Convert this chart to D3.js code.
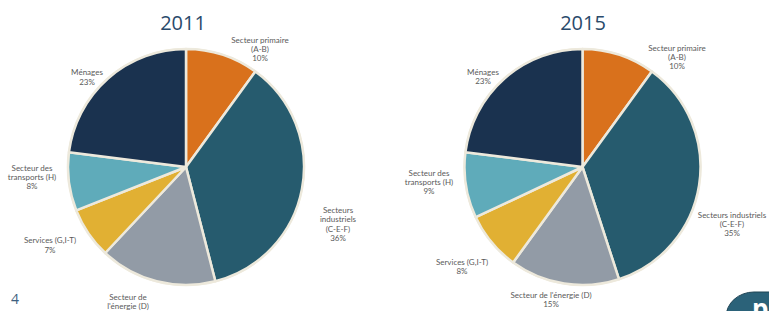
<!DOCTYPE html>
<html><head><meta charset="utf-8">
<script src="https://cdn.jsdelivr.net/npm/d3@7"></script>
<style>html,body{margin:0;padding:0;background:#fff;overflow:hidden}</style>
</head><body>
<svg id="c" width="769" height="311"></svg>
<script>
const categories = ["Secteur primaire (A-B)", "Secteurs industriels (C-E-F)", "Secteur de l'énergie (D)", "Services (G,I-T)", "Secteur des transports (H)", "Ménages"];
const years = ["2011", "2015"];
const values2011 = [10, 36, 16, 7, 8, 23];
const values2015 = [10, 35, 15, 8, 9, 23];
const labels2011 = [["Secteur primaire","(A-B)"],["Secteurs","industriels","(C-E-F)"],["Secteur de","l'énergie (D)"],["Services (G,I-T)"],["Secteur des","transports (H)"],["Ménages"]];
const labels2015 = [["Secteur primaire","(A-B)"],["Secteurs industriels","(C-E-F)"],["Secteur de l'énergie (D)"],["Services (G,I-T)"],["Secteur des","transports (H)"],["Ménages"]];
const colors = ["#D9711C", "#265B6E", "#929BA6", "#E1B033", "#5FABBA", "#1A324F"];

// layout (positions of label blocks relative to pie centre)
const layout = [
  {cx: 186, cy: 167, r: 118, titleX: 183,
   offs: [[74,-118],[152,57],[-58,139],[-136,78],[-154,10],[-99,-90]]},
  {cx: 582.5, cy: 167, r: 118, titleX: 583,
   offs: [[94.5,-110],[149.5,57],[-31.5,132.5],[-120.5,99.5],[-153.5,15],[-99.5,-90.5]]}
];
const datasets = [values2011, values2015];
const labelSets = [labels2011, labels2015];

const svg = d3.select("#c");
const color = d3.scaleOrdinal().domain(categories).range(colors);
const pie = d3.pie().sort(null).value(d => d.v);

years.forEach((yr, i) => {
  const L = layout[i];
  const data = categories.map((c, k) => ({c, v: datasets[i][k], lab: labelSets[i][k]}));
  const arcs = pie(data);
  const arc = d3.arc().innerRadius(0).outerRadius(L.r);
  const g = svg.append("g").attr("transform", `translate(${L.cx},${L.cy})`);
  g.append("circle").attr("r", L.r + 1).attr("fill", "#EDE9DC");
  g.selectAll("path").data(arcs).join("path")
    .attr("d", arc)
    .attr("fill", d => color(d.data.c))
    .attr("stroke", "#EDE9DC").attr("stroke-width", 2.5).attr("stroke-linejoin", "round");

  svg.append("text").attr("x", L.titleX).attr("y", 30)
    .attr("text-anchor", "middle").attr("font-family", "'Open Sans', sans-serif")
    .attr("font-size", 20).attr("fill", "#2A4A6B").text(yr);

  arcs.forEach((a, k) => {
    const lines = a.data.lab.concat([a.data.v + "%"]);
    const lh = 9.3;
    const [ox, oy] = L.offs[k];
    const t = svg.append("text")
      .attr("text-anchor", "middle")
      .attr("font-family", "Lato, sans-serif").attr("font-size", 8)
      .attr("fill", "#5A5A5A");
    lines.forEach((ln, j) => {
      t.append("tspan").attr("x", L.cx + ox)
        .attr("y", L.cy + oy + (j - (lines.length - 1) / 2) * lh + 3)
        .text(ln);
    });
  });
});

svg.append("text").attr("x", 15).attr("y", 304).attr("text-anchor", "middle")
  .attr("font-family", "'Open Sans', sans-serif").attr("font-size", 14)
  .attr("fill", "#3E5F80").text("4");

// corner logo fragment
svg.append("rect").attr("x", 726).attr("y", 292).attr("width", 110).attr("height", 50)
  .attr("rx", 28).attr("fill", "#2B6279").attr("stroke", "#1f4455").attr("stroke-width", 1);
svg.append("text").attr("x", 752).attr("y", 318).attr("font-family", "'Open Sans', sans-serif")
  .attr("font-weight", "bold").attr("font-size", 26).attr("fill", "#fff").text("p");
</script>
</body></html>
